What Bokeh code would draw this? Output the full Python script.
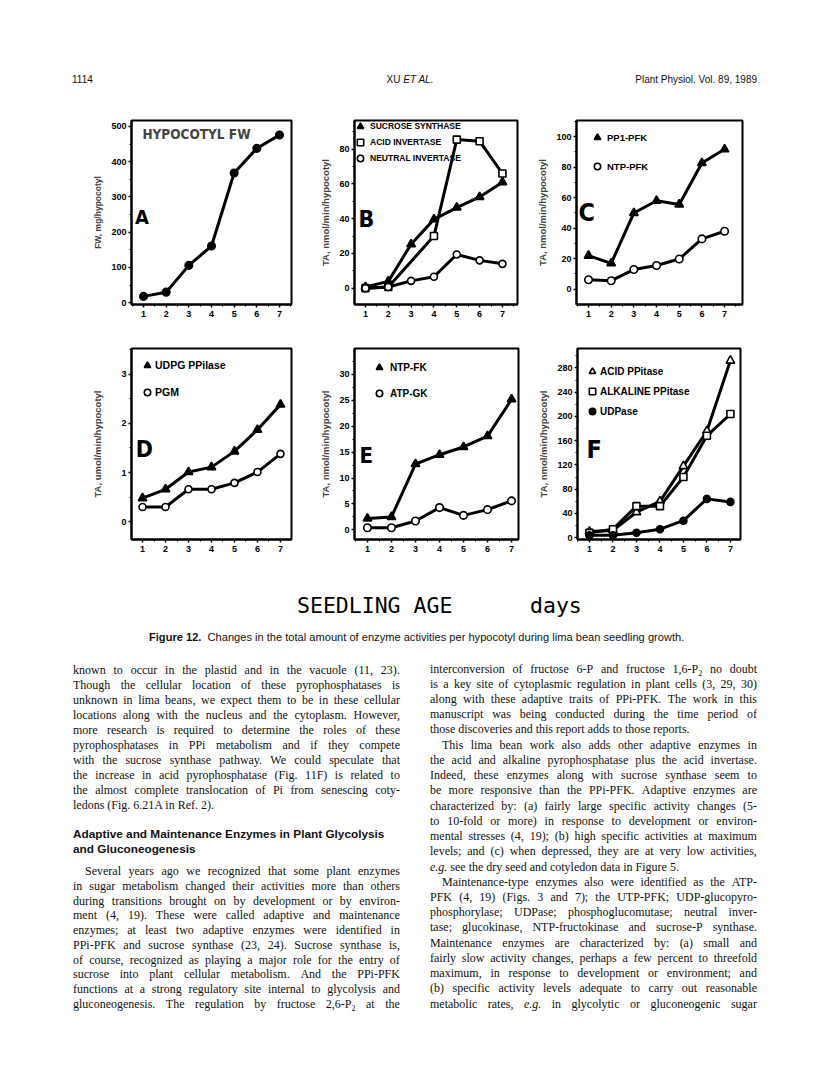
from bokeh.plotting import figure
from bokeh.models import Range1d, FixedTicker, Label, Legend, LegendItem, Div
from bokeh.layouts import column, row
from bokeh.embed import file_html
from bokeh.resources import INLINE

# ---------------- data ----------------
days = [1, 2, 3, 4, 5, 6, 7]
fw_hypocotyl = [18, 30, 106, 161, 368, 438, 476]

sucrose_synthase = [0.7, 3.9, 25.3, 39.6, 46.4, 52.5, 61.0]
acid_invertase_days = [1, 2, 4, 5, 6, 7]
acid_invertase = [0.0, 0.7, 30.0, 85.5, 84.6, 66.0]
neutral_invertase = [0.0, 0.7, 4.2, 6.6, 19.4, 16.0, 14.0]

ppi_pfk = [22.0, 17.0, 50.0, 58.0, 55.6, 82.7, 91.7]
ntp_pfk = [6.2, 5.6, 12.9, 15.6, 19.8, 33.0, 38.0]

udpg_ppiase = [0.48, 0.66, 1.01, 1.11, 1.43, 1.87, 2.38]
pgm = [0.30, 0.30, 0.66, 0.66, 0.79, 1.01, 1.38]

ntp_fk = [2.2, 2.5, 12.7, 14.5, 16.0, 18.1, 25.2]
atp_gk = [0.4, 0.4, 1.7, 4.3, 2.8, 3.9, 5.6]

acid_ppitase = [10, 12, 42, 60, 118, 176, 292]
alkaline_ppitase = [8, 14, 52, 52, 100, 168, 204]
udpase = [4, 4, 8, 14, 28, 64, 59]

x_minor = [0.5 + 0.5 * i for i in range(16)]

SANS = "Liberation Sans"
COND = "DejaVu Sans Condensed, Liberation Sans, sans-serif"


def make_panel(width, height, bl, br, bt, bb, xr, yr, yticks, yminor, ylabel,
               lsize="9.5px", lstandoff=5):
    p = figure(width=width, height=height, x_range=Range1d(*xr), y_range=Range1d(*yr),
               output_backend="svg", toolbar_location=None,
               min_border_left=bl, min_border_right=br, min_border_top=bt, min_border_bottom=bb)
    p.xgrid.visible = False
    p.ygrid.visible = False
    p.outline_line_color = "black"
    p.outline_line_width = 2
    p.outline_line_alpha = 1
    p.background_fill_color = "white"
    p.border_fill_color = "white"
    p.xaxis.ticker = FixedTicker(ticks=days, minor_ticks=x_minor)
    p.yaxis.ticker = FixedTicker(ticks=yticks, minor_ticks=yminor)
    for ax in (p.xaxis, p.yaxis):
        ax.axis_line_width = 2
        ax.axis_line_color = "black"
        ax.major_tick_line_width = 1.5
        ax.major_tick_in = 0
        ax.major_tick_out = 3
        ax.minor_tick_in = 0
        ax.minor_tick_out = 2
        ax.minor_tick_line_width = 1
        ax.major_label_text_font = SANS
        ax.major_label_text_font_style = "bold"
        ax.major_label_text_font_size = "9px"
        ax.major_label_text_color = "black"
    p.xaxis.major_label_standoff = 3
    p.yaxis.major_label_standoff = 2
    p.yaxis.axis_label = ylabel
    p.yaxis.axis_label_text_font = SANS
    p.yaxis.axis_label_text_font_style = "bold"
    p.yaxis.axis_label_text_font_size = lsize
    p.yaxis.axis_label_standoff = lstandoff
    return p


def series(p, x, y, marker, filled, size):
    p.line(x, y, line_color="black", line_width=3)
    return p.scatter(x, y, marker=marker, size=size, line_color="black", line_width=1.6,
                     fill_color="black" if filled else "white")


def add_legend(p, items, frame_h, mx, my, pitch, fsize, standoff):
    g = 16
    n = len(items)
    spacing = pitch - g
    H = n * g + (n - 1) * spacing
    left = mx - g / 2
    top = my - g / 2
    leg = Legend(items=[LegendItem(label=l, renderers=[r]) for l, r in items],
                 location=(left, frame_h - top - H),
                 padding=0, margin=0, spacing=spacing, glyph_width=g, glyph_height=g,
                 label_height=g, label_width=10, label_standoff=standoff,
                 border_line_color=None, background_fill_alpha=0,
                 label_text_font=SANS, label_text_font_style="bold",
                 label_text_font_size=fsize, label_text_color="black")
    p.add_layout(leg)


def letter(p, x, y, t, size="22px"):
    p.add_layout(Label(x=x, y=y, text=t, text_font=COND, text_font_style="bold",
                       text_font_size=size, text_baseline="middle", text_align="left",
                       text_color="black"))


TA = "TA, nmol/min/hypocotyl"

# ---- A ----
pA = make_panel(305, 235, 131, 14, 18, 31, (0.47, 7.53), (-5, 517),
                [0, 100, 200, 300, 400, 500], [50, 150, 250, 350, 450], "FW, mg/hypocotyl", "8.5px")
series(pA, days, fw_hypocotyl, "circle", True, 7.5)
letter(pA, 0.62, 244, "A", "20px")
pA.add_layout(Label(x=0.95, y=478, text="HYPOCOTYL FW", text_font=COND, text_font_style="bold",
                    text_font_size="13.5px", text_baseline="middle", text_align="left"))

# ---- B ----
pB = make_panel(223, 235, 49, 11, 13, 29, (0.52, 7.66), (-9.4, 96.5),
                [0, 20, 40, 60, 80], [10, 30, 50, 70, 90], TA)
rB1 = series(pB, days, sucrose_synthase, "triangle", True, 8.5)
rB2 = series(pB, acid_invertase_days, acid_invertase, "square", False, 7)
rB3 = series(pB, days, neutral_invertase, "circle", False, 7)
letter(pB, 0.69, 39.6, "B", "23px")
add_legend(pB, [("SUCROSE SYNTHASE", rB1), ("ACID INVERTASE", rB2), ("NEUTRAL INVERTASE", rB3)],
           193, 6, 15, 16, "8.5px", 2)

# ---- C ----
pC = make_panel(280, 235, 48, 66, 20, 22, (0.47, 7.79), (-10, 110.6),
                [0, 20, 40, 60, 80, 100], [10, 30, 50, 70, 90, 110], TA)
rC1 = series(pC, days, ppi_pfk, "triangle", True, 8.5)
rC2 = series(pC, days, ntp_pfk, "circle", False, 7.5)
letter(pC, 0.56, 50, "C", "25px")
add_legend(pC, [("PP1-PFK", rC1), ("NTP-PFK", rC2)], 193, 21, 26, 29, "9.5px", 2)

# ---- D ----
pD = make_panel(305, 230, 131, 14, 9, 26, (0.52, 7.48), (-0.36, 3.52),
                [0, 1, 2, 3], [0.5, 1.5, 2.5, 3.5], "TA, umol/min/hypocotyl", lstandoff=15)
rD1 = series(pD, days, udpg_ppiase, "triangle", True, 8.5)
rD2 = series(pD, days, pgm, "circle", False, 7)
letter(pD, 0.7, 1.47, "D", "23px")
add_legend(pD, [("UDPG PPilase", rD1), ("PGM", rD2)], 195, 16, 21, 27, "10.5px", 0)

# ---- E ----
pE = make_panel(223, 230, 49, 10, 9, 23, (0.46, 7.29), (-1.86, 35),
                [0, 5, 10, 15, 20, 25, 30], [2.5, 7.5, 12.5, 17.5, 22.5, 27.5, 32.5], TA)
rE1 = series(pE, days, ntp_fk, "triangle", True, 8.5)
rE2 = series(pE, days, atp_gk, "circle", False, 7.5)
letter(pE, 0.67, 14.3, "E", "22px")
add_legend(pE, [("NTP-FK", rE1), ("ATP-GK", rE2)], 198, 25, 26, 26, "10px", 3)

# ---- F ----
pF = make_panel(280, 230, 49, 68, 13, 24, (0.49, 7.43), (-3, 312),
                [0, 40, 80, 120, 160, 200, 240, 280], [20, 60, 100, 140, 180, 220, 260, 300], TA)
rF1 = series(pF, days, acid_ppitase, "triangle", False, 8.5)
rF2 = series(pF, days, alkaline_ppitase, "square", False, 7)
rF3 = series(pF, days, udpase, "circle", True, 7)
letter(pF, 0.87, 145, "F", "25px")
add_legend(pF, [("ACID PPitase", rF1), ("ALKALINE PPitase", rF2), ("UDPase", rF3)],
           193, 15, 25, 20, "10px", 0)

# ---------------- page text ----------------
SERIF = "'Liberation Serif','Times New Roman',serif"
SANSF = "'Liberation Sans',Arial,sans-serif"

header_html = (
    f'<div style="position:relative;width:816px;height:100px;font-family:{SANSF};font-size:10px;color:#111;">'
    '<div style="position:absolute;left:72px;top:74px;line-height:12px;white-space:nowrap;">1114</div>'
    '<div style="position:absolute;left:0px;width:820px;text-align:center;top:74px;line-height:12px;white-space:nowrap;">XU <i>ET AL.</i></div>'
    '<div style="position:absolute;right:59px;top:74px;line-height:12px;white-space:nowrap;">Plant Physiol. Vol. 89, 1989</div>'
    '</div>'
)

OX, OY = 0, 565  # page offset of the lower text block


def jline(html, xp, yc, w, indent=0):
    words = html.split(" ")
    spans = "".join(
        f"<span>{wd}&nbsp;</span>" if i < len(words) - 1 else f"<span>{wd}</span>"
        for i, wd in enumerate(words))
    return (f'<div style="position:absolute;left:{xp - OX + indent}px;top:{yc - OY - 7.5:.1f}px;'
            f'width:{w - indent}px;display:flex;justify-content:space-between;white-space:nowrap;'
            f'line-height:15px;">{spans}</div>')


def pline(html, xp, yc, indent=0, extra=""):
    return (f'<div style="position:absolute;left:{xp - OX + indent}px;top:{yc - OY - 7.5:.1f}px;'
            f'white-space:nowrap;line-height:15px;{extra}">{html}</div>')


left_p1 = [
    "known to occur in the plastid and in the vacuole (11, 23).",
    "Though the cellular location of these pyrophosphatases is",
    "unknown in lima beans, we expect them to be in these cellular",
    "locations along with the nucleus and the cytoplasm. However,",
    "more research is required to determine the roles of these",
    "pyrophosphatases in PPi metabolism and if they compete",
    "with the sucrose synthase pathway. We could speculate that",
    "the increase in acid pyrophosphatase (Fig. 11F) is related to",
    "the almost complete translocation of Pi from senescing coty-",
    "ledons (Fig. 6.21A in Ref. 2).",
]
heading = ["Adaptive and Maintenance Enzymes in Plant Glycolysis", "and Gluconeogenesis"]
left_p2 = [
    "Several years ago we recognized that some plant enzymes",
    "in sugar metabolism changed their activities more than others",
    "during transitions brought on by development or by environ-",
    "ment (4, 19). These were called adaptive and maintenance",
    "enzymes; at least two adaptive enzymes were identified in",
    "PPi-PFK and sucrose synthase (23, 24). Sucrose synthase is,",
    "of course, recognized as playing a major role for the entry of",
    "sucrose into plant cellular metabolism. And the PPi-PFK",
    "functions at a strong regulatory site internal to glycolysis and",
    "gluconeogenesis. The regulation by fructose 2,6-P<sub>2</sub> at the",
]
right_lines = [
    ("interconversion of fructose 6-P and fructose 1,6-P<sub>2</sub> no doubt", "J", 0),
    ("is a key site of cytoplasmic regulation in plant cells (3, 29, 30)", "J", 0),
    ("along with these adaptive traits of PPi-PFK. The work in this", "J", 0),
    ("manuscript was being conducted during the time period of", "J", 0),
    ("those discoveries and this report adds to those reports.", "L", 0),
    ("This lima bean work also adds other adaptive enzymes in", "J", 12),
    ("the acid and alkaline pyrophosphatase plus the acid invertase.", "J", 0),
    ("Indeed, these enzymes along with sucrose synthase seem to", "J", 0),
    ("be more responsive than the PPi-PFK. Adaptive enzymes are", "J", 0),
    ("characterized by: (a) fairly large specific activity changes (5-", "J", 0),
    ("to 10-fold or more) in response to development or environ-", "J", 0),
    ("mental stresses (4, 19); (b) high specific activities at maximum", "J", 0),
    ("levels; and (c) when depressed, they are at very low activities,", "J", 0),
    ("<i>e.g.</i> see the dry seed and cotyledon data in Figure 5.", "L", 0),
    ("Maintenance-type enzymes also were identified as the ATP-", "J", 12),
    ("PFK (4, 19) (Figs. 3 and 7); the UTP-PFK; UDP-glucopyro-", "J", 0),
    ("phosphorylase; UDPase; phosphoglucomutase; neutral inver-", "J", 0),
    ("tase; glucokinase, NTP-fructokinase and sucrose-P synthase.", "J", 0),
    ("Maintenance enzymes are characterized by: (a) small and", "J", 0),
    ("fairly slow activity changes, perhaps a few percent to threefold", "J", 0),
    ("maximum, in response to development or environment; and", "J", 0),
    ("(b) specific activity levels adequate to carry out reasonable", "J", 0),
    ("metabolic rates, <i>e.g.</i> in glycolytic or gluconeogenic sugar", "J", 0),
]

LX, RX, CW = 73, 430, 327
parts = ['<style>sub{font-size:8px;line-height:0;}</style>',
         '<div style="position:relative;width:816px;height:505px;color:#111;">']
parts.append(
    f'<div style="position:absolute;left:{297 - OX}px;top:{606 - OY - 11}px;line-height:22px;'
    f'font-family:\'DejaVu Sans Mono\',monospace;font-size:21.5px;white-space:pre;color:#000;">'
    f'SEEDLING AGE      days</div>')
parts.append(
    f'<div style="position:absolute;left:{149 - OX}px;top:{637 - OY - 6.5}px;line-height:13px;'
    f'font-family:{SANSF};font-size:11.1px;white-space:nowrap;">'
    f'<b>Figure 12.</b>&nbsp; Changes in the total amount of enzyme activities per hypocotyl during lima bean seedling growth.</div>')

body = [f'<div style="position:absolute;left:0;top:0;font-family:{SERIF};font-size:12px;">']
for i, t in enumerate(left_p1):
    yc = 670 + 15.08 * i
    body.append(pline(t, LX, yc) if i == len(left_p1) - 1 else jline(t, LX, yc, CW))
for i, t in enumerate(left_p2):
    yc = 871.7 + 14.73 * i
    body.append(jline(t, LX, yc, CW, indent=12 if i == 0 else 0))
for i, (t, kind, ind) in enumerate(right_lines):
    yc = 669 + 15.23 * i
    body.append(jline(t, RX, yc, CW, ind) if kind == "J" else pline(t, RX, yc, ind))
body.append('</div>')
parts.extend(body)
for i, t in enumerate(heading):
    parts.append(pline(t, LX, 834.3 + 15.2 * i,
                       extra=f"font-family:{SANSF};font-weight:bold;font-size:11.8px;"))
parts.append('</div>')

header = Div(text=header_html, width=816, height=100, margin=0)
lower = Div(text="".join(parts), width=816, height=505, margin=0)

layout = column(header, row(pA, pB, pC), row(pD, pE, pF), lower)

with open("out.html", "w") as f:
    f.write(file_html(layout, INLINE))
